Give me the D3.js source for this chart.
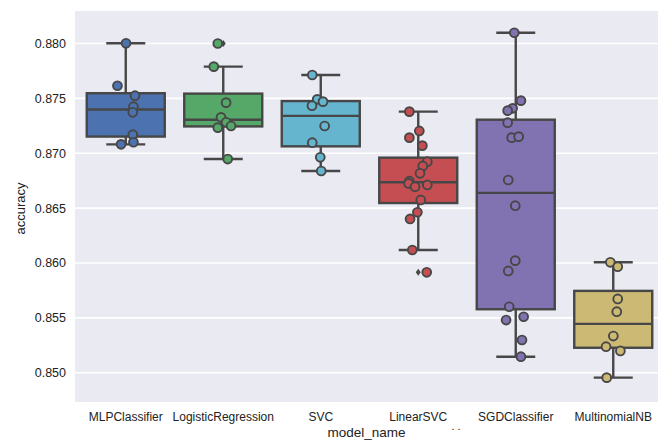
<!DOCTYPE html>
<html>
<head>
<meta charset="utf-8">
<script src="https://cdn.jsdelivr.net/npm/d3@7/dist/d3.min.js"></script>
<style>
  html, body { margin: 0; padding: 0; background: #ffffff; }
  svg { display: block; }
  text { font-family: "Liberation Sans", Arial, sans-serif; fill: #222222; }
</style>
</head>
<body>
<svg id="chart" width="668" height="441"></svg>
<script>
// ---------------- data ----------------
const categories = ["MLPClassifier", "LogisticRegression", "SVC", "LinearSVC", "SGDClassifier", "MultinomialNB"];

const mlpScores = [0.88002, 0.87615, 0.87524, 0.87424, 0.87373, 0.87169, 0.87100, 0.87081];
const mlpJitter = [0.003, -0.085, 0.095, 0.079, 0.072, 0.072, 0.079, -0.048];

const lrScores = [0.88000, 0.87789, 0.87461, 0.87327, 0.87282, 0.87248, 0.87233, 0.86947];
const lrJitter = [-0.056, -0.097, 0.029, -0.023, 0.029, 0.080, -0.056, 0.046];

const svcScores = [0.87713, 0.87491, 0.87470, 0.87433, 0.87248, 0.87096, 0.86963, 0.86838];
const svcJitter = [-0.087, -0.036, 0.023, -0.090, 0.040, -0.087, -0.005, 0.005];

const linearSvcScores = [0.87379, 0.87203, 0.87142, 0.87069, 0.86923, 0.86884, 0.86817, 0.86745,
                         0.86725, 0.86695, 0.86711, 0.86574, 0.86462, 0.86401, 0.86118, 0.85915];
const linearSvcJitter = [-0.091, 0.011, -0.091, 0.042, 0.093, 0.046, 0.018, -0.091,
                         -0.099, -0.033, 0.093, 0.026, -0.009, -0.084, -0.061, 0.087];

const sgdScores = [0.88098, 0.87479, 0.87409, 0.87388, 0.87278, 0.87142, 0.87151, 0.86756,
                   0.86522, 0.86021, 0.85927, 0.85601, 0.85480, 0.85510, 0.85298, 0.85146];
const sgdJitter = [-0.015, 0.053, -0.032, -0.083, -0.083, -0.042, 0.030, -0.077,
                   -0.005, -0.005, -0.077, -0.067, -0.099, 0.081, 0.064, 0.053];

const mnbScores = [0.86006, 0.85966, 0.85672, 0.85556, 0.85334, 0.85237, 0.85198, 0.84955];
const mnbJitter = [-0.030, 0.046, 0.046, 0.036, 0.001, -0.074, 0.073, -0.067];

const yTicks = [0.850, 0.855, 0.860, 0.865, 0.870, 0.875, 0.880];
const yDomain = [0.84733, 0.88296];

const colors = ["#4C72B0", "#55A868", "#64B5CD", "#C44E52", "#8172B2", "#CCB974"];

const xLabel = "model_name";
const yLabel = "accuracy";

// ---------------- layout ----------------
const plot = { left: 75, right: 658, top: 11, bottom: 402 };
const lineColor = "#474747";

const scoreSets = [mlpScores, lrScores, svcScores, linearSvcScores, sgdScores, mnbScores];
const jitterSets = [mlpJitter, lrJitter, svcJitter, linearSvcJitter, sgdJitter, mnbJitter];

const svg = d3.select("#chart");

const x = d3.scaleBand().domain(categories).range([77, 662]).paddingInner(0).paddingOuter(0);
const y = d3.scaleLinear().domain(yDomain).range([plot.bottom, plot.top]);

// background
svg.append("rect")
  .attr("x", plot.left).attr("y", plot.top)
  .attr("width", plot.right - plot.left).attr("height", plot.bottom - plot.top)
  .attr("fill", "#EAEAF2");

// grid
svg.append("g").selectAll("line").data(yTicks).join("line")
  .attr("x1", plot.left).attr("x2", plot.right)
  .attr("y1", d => y(d)).attr("y2", d => y(d))
  .attr("stroke", "#ffffff").attr("stroke-width", 1.6);

// box stats
function stats(vals) {
  const s = vals.slice().sort(d3.ascending);
  const q1 = d3.quantileSorted(s, 0.25);
  const med = d3.quantileSorted(s, 0.5);
  const q3 = d3.quantileSorted(s, 0.75);
  const iqr = q3 - q1;
  const lo = d3.min(s.filter(v => v >= q1 - 1.5 * iqr));
  const hi = d3.max(s.filter(v => v <= q3 + 1.5 * iqr));
  const out = s.filter(v => v < lo || v > hi);
  return { q1, med, q3, lo, hi, out };
}

const bw = x.bandwidth() * 0.8;
const boxes = svg.append("g");
categories.forEach((c, i) => {
  const st = stats(scoreSets[i]);
  const cx = x(c) + x.bandwidth() / 2;
  const g = boxes.append("g");
  // whiskers
  g.append("line").attr("x1", cx).attr("x2", cx).attr("y1", y(st.q3)).attr("y2", y(st.hi))
    .attr("stroke", lineColor).attr("stroke-width", 2.4);
  g.append("line").attr("x1", cx).attr("x2", cx).attr("y1", y(st.q1)).attr("y2", y(st.lo))
    .attr("stroke", lineColor).attr("stroke-width", 2.4);
  // caps
  [st.hi, st.lo].forEach(v => {
    g.append("line").attr("x1", cx - bw / 4).attr("x2", cx + bw / 4)
      .attr("y1", y(v)).attr("y2", y(v))
      .attr("stroke", lineColor).attr("stroke-width", 2.4);
  });
  // box
  g.append("rect").attr("x", cx - bw / 2).attr("width", bw)
    .attr("y", y(st.q3)).attr("height", y(st.q1) - y(st.q3))
    .attr("fill", colors[i]).attr("stroke", lineColor).attr("stroke-width", 2.4);
  // median
  g.append("line").attr("x1", cx - bw / 2).attr("x2", cx + bw / 2)
    .attr("y1", y(st.med)).attr("y2", y(st.med))
    .attr("stroke", lineColor).attr("stroke-width", 2.4);
  // fliers
  st.out.forEach(v => {
    const yy = y(v);
    g.append("path")
      .attr("d", `M${cx},${yy - 3.5}L${cx + 2.5},${yy}L${cx},${yy + 3.5}L${cx - 2.5},${yy}Z`)
      .attr("fill", lineColor);
  });
});

// strip points
const pts = svg.append("g");
categories.forEach((c, i) => {
  const cx = x(c) + x.bandwidth() / 2;
  const data = scoreSets[i].map((v, k) => ({ v, j: jitterSets[i][k] }));
  pts.selectAll(null).data(data).join("circle")
    .attr("cx", d => cx + d.j * x.bandwidth())
    .attr("cy", d => y(d.v))
    .attr("r", 4.4)
    .attr("fill", colors[i])
    .attr("stroke", lineColor)
    .attr("stroke-width", 1.9);
});

// axes
const yAxis = svg.append("g")
  .attr("transform", `translate(${plot.left},0)`)
  .call(d3.axisLeft(y).tickValues(yTicks).tickSize(0).tickPadding(9).tickFormat(d3.format(".3f")));
yAxis.select(".domain").remove();
yAxis.selectAll("text").attr("font-size", 12.5).attr("font-family", "Liberation Sans, Arial, sans-serif").attr("fill", "#1a1a1a");

const xAxis = svg.append("g")
  .attr("transform", `translate(0,${plot.bottom})`)
  .call(d3.axisBottom(x).tickSize(0).tickPadding(10));
xAxis.select(".domain").remove();
xAxis.selectAll("text").attr("font-size", 12).attr("font-family", "Liberation Sans, Arial, sans-serif").attr("fill", "#1a1a1a");

// axis titles
svg.append("text")
  .attr("transform", `translate(25,${(plot.top + plot.bottom) / 2 + 2}) rotate(-90)`)
  .attr("text-anchor", "middle")
  .attr("font-size", 13)
  .text(yLabel);

svg.append("text")
  .attr("x", (plot.left + plot.right) / 2)
  .attr("y", 437)
  .attr("text-anchor", "middle")
  .attr("font-size", 13.5)
  .text(xLabel);

svg.append("text")
  .attr("x", 456).attr("y", 430)
  .attr("text-anchor", "middle")
  .attr("font-size", 11)
  .text(". .");
</script>
</body>
</html>
